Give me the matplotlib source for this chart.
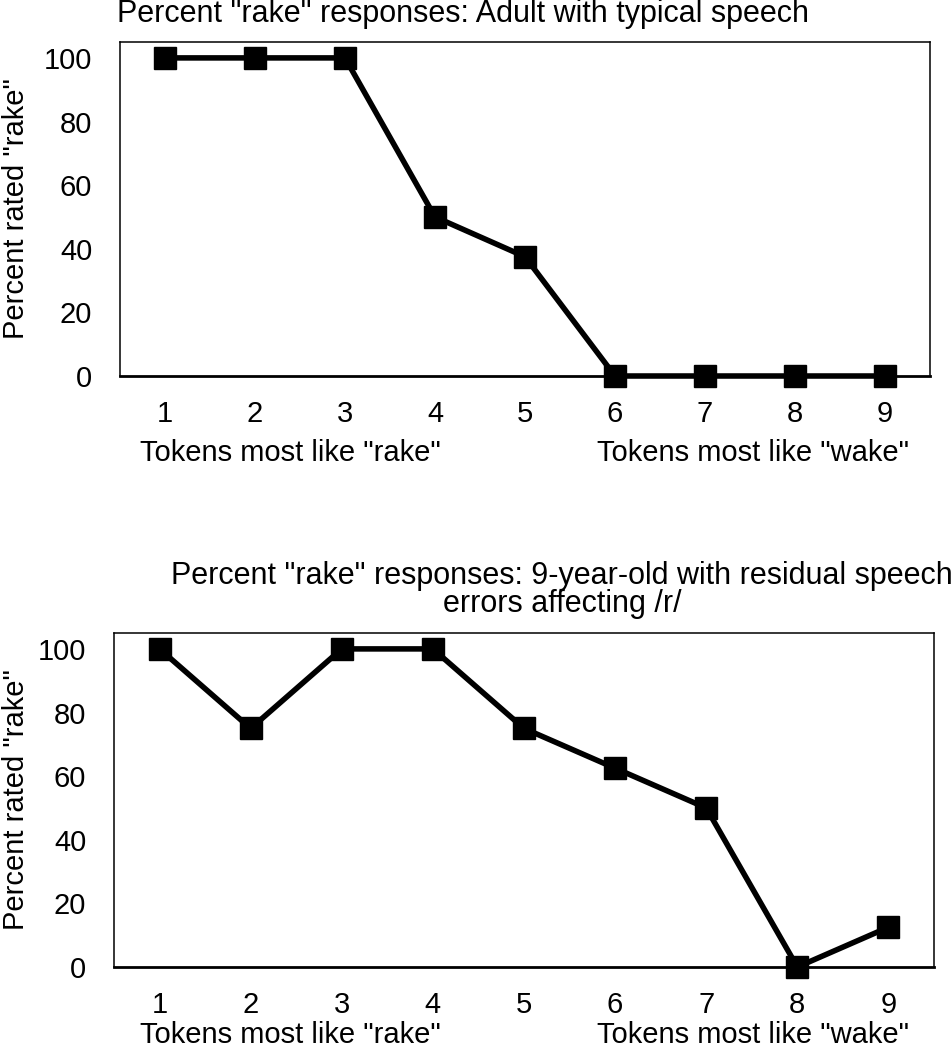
import numpy as np
import matplotlib
matplotlib.use("Agg")
from matplotlib import pyplot as plt

plt.rcParams['font.family'] = ['Liberation Sans', 'DejaVu Sans']

tokens = [1, 2, 3, 4, 5, 6, 7, 8, 9]
adult = [100, 100, 100, 50, 37.5, 0, 0, 0, 0]
child = [100, 75, 100, 100, 75, 62.5, 50, 0, 12.5]
yticks = [0, 20, 40, 60, 80, 100]

title_adult = 'Percent "rake" responses: Adult with typical speech'
title_child = ['Percent "rake" responses: 9-year-old with residual speech',
               'errors affecting /r/']
ylab = 'Percent rated "rake"'
left_lab = 'Tokens most like "rake"'
right_lab = 'Tokens most like "wake"'

W, H = 952, 1050
fs = 21
fig = plt.figure(figsize=(W / 100, H / 100), dpi=100)


def px(x, y):
    return x / W, 1 - y / H


def panel(left, right, top, bottom, vals):
    ax = fig.add_axes([left / W, 1 - bottom / H, (right - left) / W, (bottom - top) / H])
    ax.plot(tokens, vals, color='black', lw=4, marker='s', ms=16,
            clip_on=False, zorder=3)
    ax.set_xlim(0.5, 9.5)
    ax.set_ylim(0, 105)
    ax.set_xticks(tokens)
    ax.set_yticks(yticks)
    ax.tick_params(length=0, labelsize=fs)
    ax.tick_params(axis='x', pad=17)
    ax.tick_params(axis='y', pad=20)
    for s in ax.spines.values():
        s.set_linewidth(1.1)
    ax.spines['bottom'].set_linewidth(2.0)
    fig.text(*px(16, (top + bottom) / 2), ylab, fontsize=fs, rotation=90,
             ha='center', va='center')
    return ax


ax1 = panel(120, 930, 42, 376, adult)
ax2 = panel(114, 934, 633, 967, child)

fig.text(*px(117, 22), title_adult, fontsize=22, ha='left', va='baseline')
fig.text(*px(562, 584), title_child[0], fontsize=22, ha='center', va='baseline')
fig.text(*px(562, 612), title_child[1], fontsize=22, ha='center', va='baseline')

for y in (453, 1035):
    fig.text(*px(290, y), left_lab, fontsize=fs, ha='center', va='center')
    fig.text(*px(753, y), right_lab, fontsize=fs, ha='center', va='center')

fig.savefig('out.png', dpi=100)
